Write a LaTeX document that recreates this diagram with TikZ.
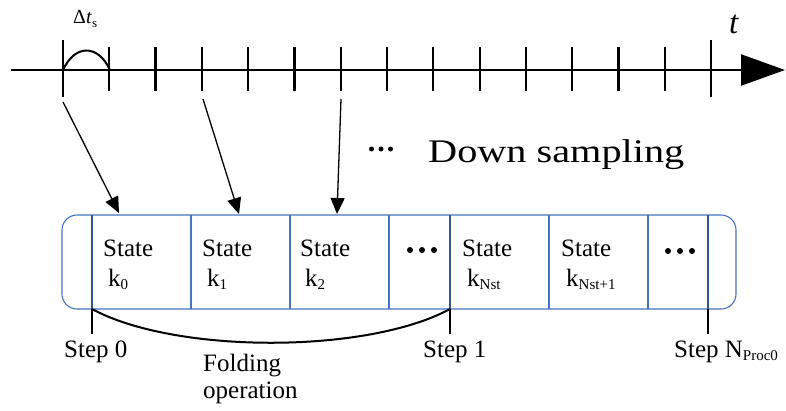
\documentclass[tikz,border=0pt]{standalone}
\usepackage{fontspec}
\setmainfont{Liberation Serif}
\usetikzlibrary{arrows.meta}
\definecolor{cellblue}{RGB}{68,114,196}
\definecolor{edgeblue}{RGB}{47,85,151}

% subscript in the label font, slightly lowered
\newcommand{\lowsub}[1]{\raisebox{-0.12em}{\fontsize{15}{15}\selectfont #1}}

\begin{document}
\begin{tikzpicture}[x=1pt,y=-1pt,
  tickline/.style={line width=2.2pt},
  thinwall/.style={draw=cellblue, line width=1.1pt},
  thickwall/.style={draw=edgeblue, line width=2pt},
  lbl/.style={font=\fontsize{25}{27}\selectfont, inner sep=0pt, anchor=base west},
  samplearrow/.style={line width=1.3pt, -{Triangle[length=16pt,width=14pt]}},
  dot/.style={circle, fill=black, inner sep=0pt, minimum size=#1},
  dot/.default=6pt]
\useasboundingbox (0,0) rectangle (786,410);

% ---- time axis with ticks ----
\coordinate (ax0) at (11,70);
\coordinate (axend) at (785,70);
\draw[line width=2.4pt, -{Triangle[length=44pt,width=31pt]}] (ax0) -- (axend);
\foreach \i in {1,...,13} {
  \draw[tickline] ({63+\i*46.29},47) -- ({63+\i*46.29},91);
}
\draw[tickline] (63,40) -- (63,97);
\draw[tickline] (711,40) -- (711,97);

% sampling interval arc
\coordinate (arcL) at (63,70);
\coordinate (arcR) at (110,70);
\draw[line width=2pt] (arcL) .. controls (75,44) and (98,44) .. (arcR);
\node[anchor=base west, inner sep=0pt, font=\fontsize{20}{20}\selectfont] (dts) at (73,23)
  {Δ\textit{t}\raisebox{-0.2em}{\fontsize{13}{13}\selectfont s}};
\node[anchor=base west, inner sep=0pt, font=\fontsize{33}{33}\selectfont] (tlab) at (729,33) {\textit{t}};

% ---- down sampling label ----
\node[dot=5pt] (ds1) at (371.5,149) {};
\node[dot=5pt] (ds2) at (381,149) {};
\node[dot=5pt] (ds3) at (390.5,149) {};
\node[anchor=base west, inner sep=0pt, font=\fontsize{33}{33}\selectfont] (dslab) at (428,162)
  {\scalebox{1.22}[1]{Down sampling}};

% ---- state buffer ----
\draw[thinwall, rounded corners=15pt] (62,215) rectangle (736,309);
\foreach \x in {191,290,389,549,648} {
  \draw[thinwall] (\x,215) -- (\x,309);
}
\foreach \x in {92,450,708} {
  \draw[thickwall] (\x,215) -- (\x,309);
}

\node[lbl] (s0) at (103,256.5) {State};
\node[lbl] (k0) at (108,286.5) {k\lowsub{0}};
\node[lbl] (s1) at (202,256.5) {State};
\node[lbl] (k1) at (207,286.5) {k\lowsub{1}};
\node[lbl] (s2) at (300,256.5) {State};
\node[lbl] (k2) at (305,286.5) {k\lowsub{2}};
\node[lbl] (s3) at (462,256.5) {State};
\node[lbl] (k3) at (467,286.5) {k\lowsub{Nst}};
\node[lbl] (s4) at (561,256.5) {State};
\node[lbl] (k4) at (566,286.5) {k\lowsub{Nst+1}};

\foreach \x [count=\n] in {410,422,434} {
  \node[dot] (ca\n) at (\x,250) {};
}
\foreach \x [count=\n] in {668,680,692} {
  \node[dot] (cb\n) at (\x,251) {};
}

% ---- sampling arrows ----
\coordinate (a0s) at (63,102);
\coordinate (a0e) at (119,213);
\coordinate (a1s) at (203,99);
\coordinate (a1e) at (239,214);
\coordinate (a2s) at (341,99);
\coordinate (a2e) at (337,214);
\draw[samplearrow] (a0s) -- (a0e);
\draw[samplearrow] (a1s) -- (a1e);
\draw[samplearrow] (a2s) -- (a2e);

% ---- step markers ----
\coordinate (st0) at (92,309);
\coordinate (st0b) at (92,334);
\coordinate (st1) at (450,309);
\coordinate (st1b) at (450,334);
\coordinate (stN) at (708,309);
\coordinate (stNb) at (708,334);
\draw[line width=2pt] (st0) -- (st0b);
\draw[line width=2pt] (st1) -- (st1b);
\draw[line width=2pt] (stN) -- (stNb);
\node[lbl] (step0) at (64,357) {Step 0};
\node[lbl] (step1) at (423,357) {Step 1};
\node[lbl] (stepN) at (674,357) {Step N\lowsub{Proc0}};

% folding arc between step 0 and step 1
\draw[line width=2pt] (st0) .. controls (175,354) and (367,354) .. (st1);
\node[lbl] (fold1) at (203,371) {Folding};
\node[lbl] (fold2) at (203,398) {operation};

\end{tikzpicture}
\end{document}
